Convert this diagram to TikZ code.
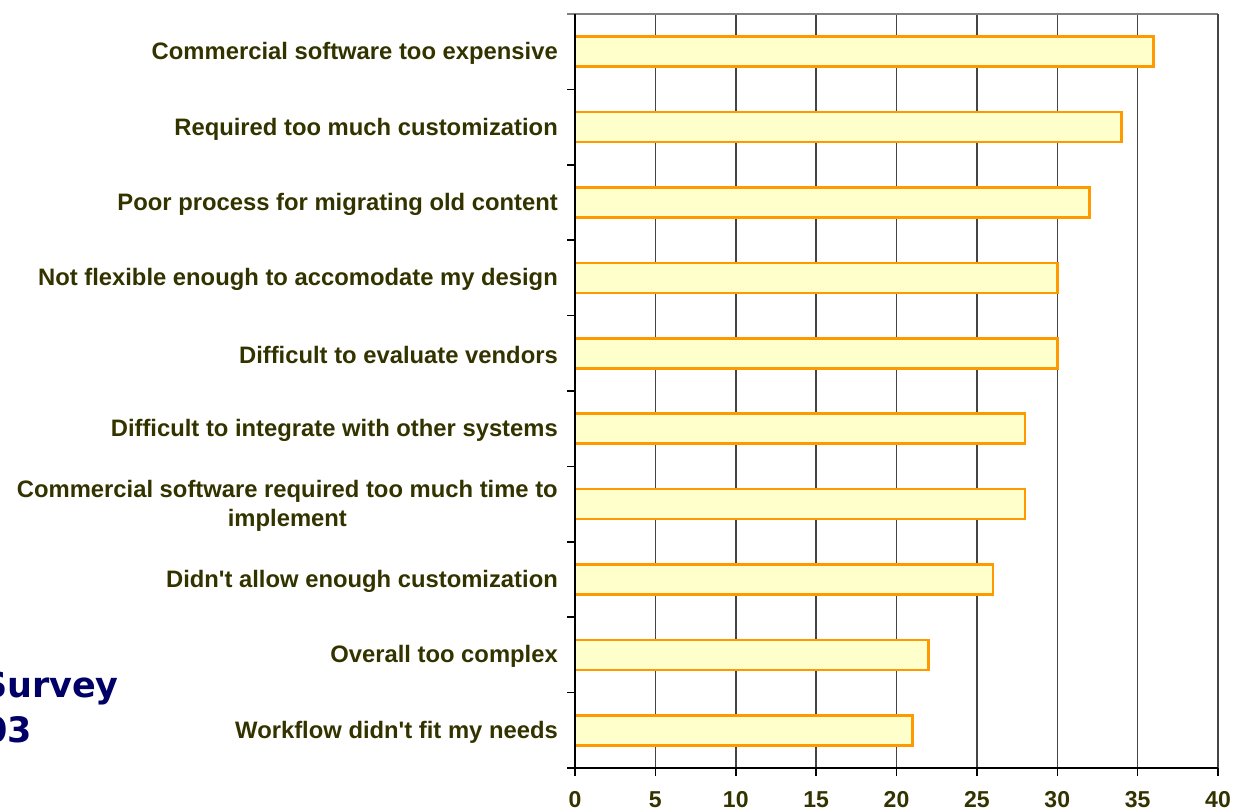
\documentclass[tikz,border=0pt]{standalone}
\usepackage{fontspec}
\setmainfont{Liberation Sans}
\newfontfamily\titlefont{DejaVu Sans}
\usetikzlibrary{calc}

\definecolor{labeltext}{HTML}{333300}
\definecolor{titleblue}{HTML}{000066}
\definecolor{barfill}{HTML}{FFFFCC}
\definecolor{barline}{HTML}{FF9900}
\definecolor{gridgray}{HTML}{454545}

\tikzset{
  catlabel/.style={anchor=east, inner sep=0pt, align=center, text=labeltext,
    font=\fontsize{23.8}{29.5}\selectfont\bfseries},
  ticklabel/.style={anchor=base, inner sep=0pt, text=labeltext,
    font=\fontsize{23}{27}\selectfont\bfseries},
  hbar/.style={draw=barline, fill=barfill, line width=2.6pt},
}

\begin{document}
\begin{tikzpicture}[x=1pt, y=-1pt]
\useasboundingbox (0,0) rectangle (1234,811);

% grid and frame
\foreach \x in {5, 10, ..., 35} {
 \draw[gridgray, line width=1.5pt] ({575+16.075*\x},14) -- ({575+16.075*\x},768);
};
\draw[gray, line width=1.5pt] (567,14) -- (1218,14);
\draw[gridgray, line width=2pt] (1218,14) -- (1218,768);

% bars
\foreach \v [count=\i from 0] in {36, 34, 32, 30, 30, 28, 28, 26, 22, 21} {
 \draw[hbar] (575,{51.7+75.4*\i-15}) rectangle ({575+16.075*\v},{51.7+75.4*\i+15});
};

% axes
\draw[black, line width=2pt] (575,14) -- (575,768);
\draw[black, line width=2pt] (567,768) -- (1218,768);
\foreach \k in {1,...,9} {
 \draw[black, line width=1.5pt] (575,{14+75.4*\k}) -- +(-8,0);
};
\foreach \x in {0, 5, ..., 40} {
 \draw[black, line width=1.5pt] ({575+16.075*\x},768) -- +(0,8);
 \node[ticklabel] (tick\x) at ({575+16.075*\x},807) {\x};
};

% category labels
\foreach \t [count=\i from 0] in {
  Commercial software too expensive,
  Required too much customization,
  Poor process for migrating old content,
  Not flexible enough to accomodate my design,
  Difficult to evaluate vendors,
  Difficult to integrate with other systems,
  {Commercial software required too much time to\\implement},
  Didn\textquotesingle t allow enough customization,
  Overall too complex,
  Workflow didn\textquotesingle t fit my needs} {
 \node[catlabel] (cat\i) at (558,{53.5+75.4*\i}) {\t};
};

% cut-off title
\node[anchor=base east, inner sep=0pt, text=titleblue,
  font=\titlefont\fontsize{35}{40}\selectfont\bfseries] (survey) at (119,697) {Survey};
\node[anchor=base east, inner sep=0pt, text=titleblue,
  font=\titlefont\fontsize{35}{40}\selectfont\bfseries] (year) at (32,742) {2003};
\end{tikzpicture}
\end{document}
